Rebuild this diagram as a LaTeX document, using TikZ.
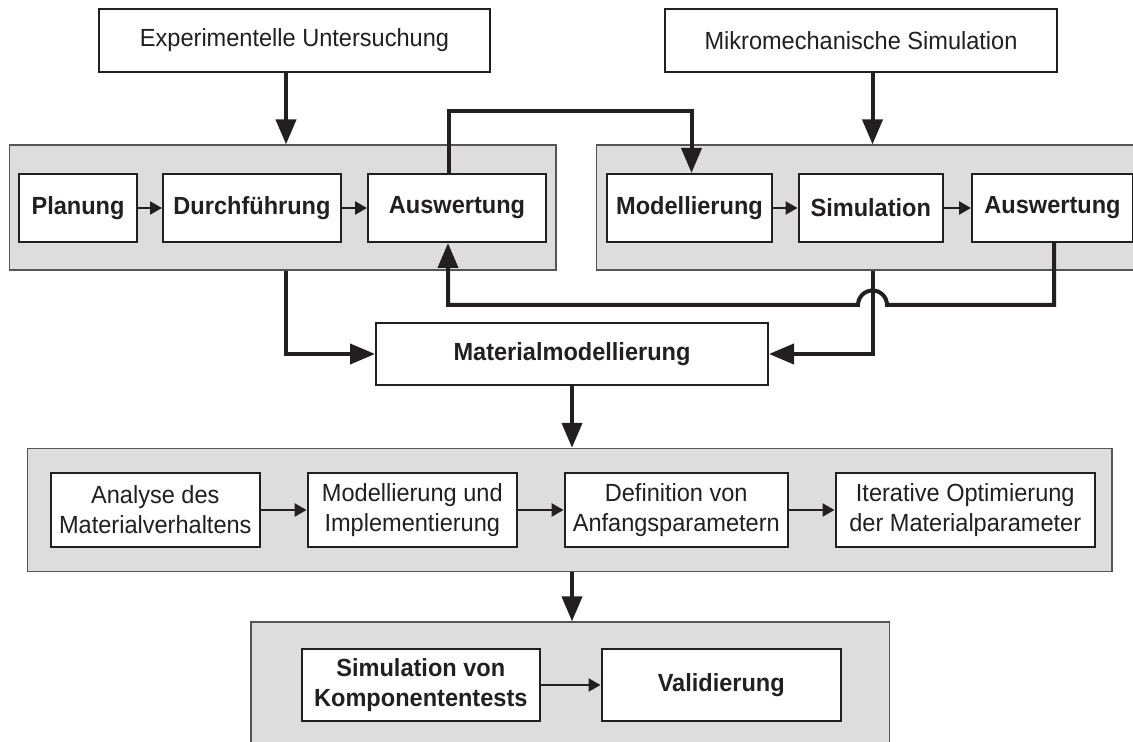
\documentclass[tikz,border=0pt]{standalone}
\usepackage{fontspec}
\setmainfont{Liberation Sans}[FakeStretch=0.95]
\usetikzlibrary{positioning,arrows.meta}
\definecolor{ink}{RGB}{35,31,32}
\definecolor{panelgray}{RGB}{221,221,221}
\definecolor{panelline}{RGB}{85,85,85}
\tikzset{
flow/.style={
    x=0.5pt,
    y=-0.5pt,
    color=ink,
    font=\fontsize{12.4pt}{15pt}\selectfont
},
panel/.style={
    draw=panelline,
    line width=0.6pt,
    fill=panelgray,
    inner sep=0pt
},
box/.style={
    draw=ink,
    line width=1pt,
    fill=white,
    inner sep=0pt,
    align=center
},
boldbox/.style={
    box,
    font=\fontsize{12.4pt}{15pt}\selectfont\bfseries
},
feed/.style={
    -{Triangle[length=12.5pt,width=10pt]},
    line width=2pt
},
link/.style={
    -{Triangle[length=6pt,width=6.5pt]},
    line width=1.2pt
}}

\begin{document}
\begin{tikzpicture}[flow]
\useasboundingbox (0,0) rectangle (1133,742);
\clip (0,0) rectangle (1133,742);

% grey panels
\node[panel, minimum width=273.25pt, minimum height=62.5pt]    (panelA)    at (282.75,207.5)    {};
\node[panel, minimum width=276pt, minimum height=62.5pt]    (panelB)    at (872.5,207.5)    {};
\node[panel, minimum width=542.25pt, minimum height=61.6pt]    (panelC)    at (569.75,510)    {};
\node[panel, minimum width=319.25pt, minimum height=79pt]    (panelD)    at (570.25,701)    {};

% sources
\node[box, minimum width=195.5pt, minimum height=31.5pt]    (exp)    at (294.5,40.5)    {Experimentelle Untersuchung};
\node[box, minimum width=196pt, minimum height=31.5pt]    (mikro)    at (861,40.5)    {Mikromechanische Simulation};

% experiment row
\node[boldbox, minimum width=59pt, minimum height=34pt]    (planA)    at (78,208)    {Planung};
\node[boldbox, minimum width=89pt, minimum height=34pt]    (durchA)    [right=12pt of planA]    {Durchführung};
\node[boldbox, minimum width=89pt, minimum height=34pt]    (auswA)    [right=12.5pt of durchA]    {Auswertung};

% simulation row
\node[boldbox, minimum width=82.5pt, minimum height=34pt]    (modB)    at (689.5,208)    {Modellierung};
\node[boldbox, minimum width=72.25pt, minimum height=34pt]    (simB)    [right=12.25pt of modB]    {Simulation};
\node[boldbox, minimum width=80.5pt, minimum height=34pt]    (auswB)    [right=13.5pt of simB]    {Auswertung};

\node[boldbox, minimum width=196pt, minimum height=31pt]    (matmod)    at (572,354)    {Materialmodellierung};

% model row
\node[box, minimum width=104.7pt, minimum height=37pt]    (analyse)    at (155.3,510)    {Analyse des\\Materialverhaltens};
\node[box, minimum width=104.7pt, minimum height=37pt]    (implem)    [right=22.8pt of analyse]    {Modellierung und\\Implementierung};
\node[box, minimum width=111.65pt, minimum height=37pt]    (anfang)    [right=22.8pt of implem]    {Definition von\\Anfangsparametern};
\node[box, minimum width=129.75pt, minimum height=37pt]    (optim)    [right=22.8pt of anfang]    {Iterative Optimierung\\der Materialparameter};

% component row
\node[boldbox, minimum width=119.2pt, minimum height=36pt]    (komp)    at (420.8,685)    {Simulation von\\Komponententests};
\node[boldbox, minimum width=119.75pt, minimum height=36pt]    (valid)    [right=29.75pt of komp]    {Validierung};

% bends
\coordinate    (colA)    at (286,0);
\coordinate    (colB)    at (872.5,0);
\coordinate    (riseA)    at (449,111);
\coordinate    (dropB)    at (691.5,111);
\coordinate    (busR)    at (1054,305);
\coordinate    (busL)    at (448,305);
\coordinate    (hop)    at (872.5,305);

\path    (exp.south -| colA)    edge[feed]    (panelA.north -| colA);
\path    (mikro.south -| colB)    edge[feed]    (panelB.north -| colB);

\path    (planA)    edge[link]    (durchA);
\path    (durchA)    edge[link]    (auswA);
\path    (modB)    edge[link]    (simB);
\path    (simB)    edge[link]    (auswB);

\draw[feed]    (auswA.north -| riseA) -- (riseA) -- (dropB) -- (modB.north -| dropB);
\draw[feed]    (auswB.south -| busR) -- (busR) -- ([xshift=7.25pt]hop) arc[start angle=0, end angle=180, radius=7.25pt] -- (busL) -- (auswA.south -| busL);
\draw[feed]    (panelA.south -| colA) |- (matmod.west);
\draw[feed]    (panelB.south -| colB) |- (matmod.east);

\path    (matmod.south)    edge[feed]    (matmod.south |- panelC.north);

\path    (analyse)    edge[link]    (implem);
\path    (implem)    edge[link]    (anfang);
\path    (anfang)    edge[link]    (optim);

\path    (panelC.south -| matmod.south)    edge[feed]    (panelD.north -| matmod.south);
\path    (komp)    edge[link]    (valid);
\end{tikzpicture}
\end{document}
